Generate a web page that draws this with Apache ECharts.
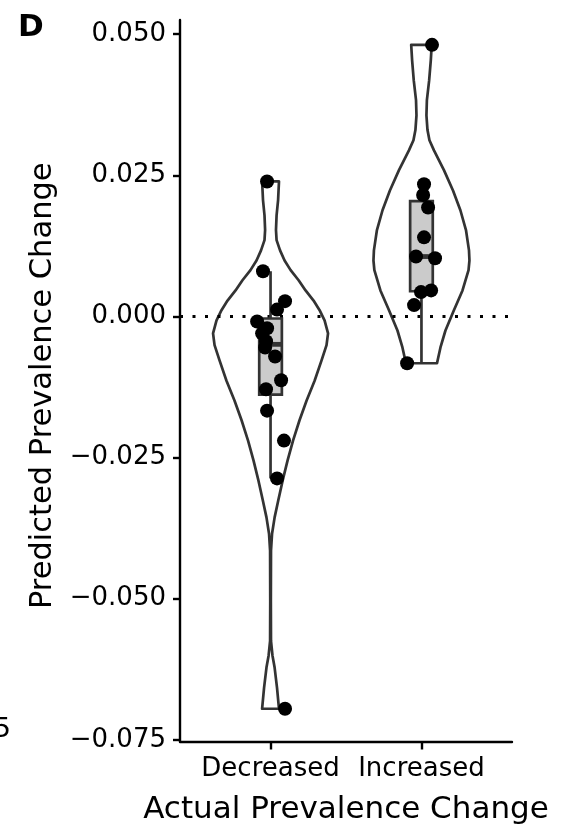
<!DOCTYPE html>
<html>
<head>
<meta charset="utf-8">
<script src="https://cdn.jsdelivr.net/npm/echarts@6/dist/echarts.min.js"></script>
<style>
  html, body { margin: 0; padding: 0; background: #ffffff; }
  #chart { width: 561px; height: 831px; }
</style>
</head>
<body>
<div id="chart"></div>
<script>
// Groups along the x axis
const categories = ['Decreased', 'Increased'];
const yTicks = [-0.075, -0.05, -0.025, 0, 0.025, 0.05];

// Predicted prevalence change per country, with the horizontal jitter of each dot
const decreasedValues = [0.0239, 0.0080, 0.0027, 0.0012, -0.0009, -0.0021, -0.0030, -0.0044,
  -0.0055, -0.0071, -0.0113, -0.0129, -0.0167, -0.0220, -0.0287, -0.0695];
const decreasedJitter = [-0.023, -0.050, 0.096, 0.043, -0.089, -0.023, -0.056, -0.030,
  -0.036, 0.030, 0.070, -0.030, -0.023, 0.089, 0.043, 0.096];
const increasedValues = [0.0481, 0.0234, 0.0215, 0.0193, 0.0140, 0.0106, 0.0103, 0.0046,
  0.0043, 0.0020, -0.0083];
const increasedJitter = [0.070, 0.017, 0.011, 0.044, 0.017, -0.036, 0.090, 0.064,
  -0.003, -0.049, -0.095];

// Violin outlines: density half-width (in group units) at each prediction level
const decreasedDensityLevels = [0.0239, 0.0223, 0.0206, 0.0179, 0.0153, 0.0135, 0.0117, 0.0099,
  0.0082, 0.0064, 0.0046, 0.0028, 0.0011, -0.0007, -0.0030, -0.0051, -0.0078, -0.0114,
  -0.0149, -0.0184, -0.0220, -0.0255, -0.0291, -0.0326, -0.0356, -0.0385, -0.0415,
  -0.0504, -0.0575, -0.0601, -0.0622, -0.0658, -0.0695];
const decreasedDensityWidth = [0.056, 0.053, 0.050, 0.040, 0.036, 0.040, 0.063, 0.093,
  0.133, 0.186, 0.232, 0.285, 0.325, 0.358, 0.381, 0.371, 0.338, 0.292,
  0.239, 0.192, 0.149, 0.113, 0.080, 0.051, 0.027, 0.010, 0.003,
  0.002, 0.003, 0.013, 0.027, 0.043, 0.056];
const increasedDensityLevels = [0.0481, 0.0454, 0.0418, 0.0383, 0.0356, 0.0330, 0.0312, 0.0294,
  0.0259, 0.0223, 0.0188, 0.0153, 0.0117, 0.0099, 0.0082, 0.0046, 0.0011, -0.0025,
  -0.0055, -0.0083];
const increasedDensityWidth = [0.068, 0.062, 0.051, 0.036, 0.033, 0.040, 0.053, 0.083,
  0.149, 0.209, 0.258, 0.295, 0.315, 0.318, 0.312, 0.272, 0.215, 0.159,
  0.126, 0.103];

const FONT = '"DejaVu Sans", "Liberation Sans", sans-serif';
const INK = '#333333';
const STROKE = 2.7;

const groups = [
  { pos: 1, values: decreasedValues, jitter: decreasedJitter,
    levels: decreasedDensityLevels, widths: decreasedDensityWidth },
  { pos: 2, values: increasedValues, jitter: increasedJitter,
    levels: increasedDensityLevels, widths: increasedDensityWidth }
];

// Tukey box statistics (type-7 quantiles, whiskers to the furthest point within 1.5 IQR)
function quantile(sorted, p) {
  const h = (sorted.length - 1) * p;
  const lo = Math.floor(h), hi = Math.ceil(h);
  return sorted[lo] + (h - lo) * (sorted[hi] - sorted[lo]);
}
function boxStats(values) {
  const s = values.slice().sort((a, b) => a - b);
  const q1 = quantile(s, 0.25), med = quantile(s, 0.5), q3 = quantile(s, 0.75);
  const iqr = q3 - q1;
  const inside = s.filter(v => v >= q1 - 1.5 * iqr && v <= q3 + 1.5 * iqr);
  return { q1, med, q3, lo: inside[0], hi: inside[inside.length - 1] };
}
groups.forEach(g => { g.box = boxStats(g.values); });

function renderViolin(params, api) {
  const g = groups[params.dataIndex];
  const pts = [];
  for (let i = 0; i < g.levels.length; i++) pts.push(api.coord([g.pos - g.widths[i], g.levels[i]]));
  for (let i = g.levels.length - 1; i >= 0; i--) pts.push(api.coord([g.pos + g.widths[i], g.levels[i]]));
  return {
    type: 'polygon',
    shape: { points: pts },
    style: { fill: 'none', stroke: INK, lineWidth: STROKE, lineJoin: 'round' }
  };
}

const BOX_HALF = 0.075;
function renderBox(params, api) {
  const g = groups[params.dataIndex];
  const b = g.box;
  const tl = api.coord([g.pos - BOX_HALF, b.q3]);
  const br = api.coord([g.pos + BOX_HALF, b.q1]);
  const c = (v) => api.coord([g.pos, v]);
  const ml = api.coord([g.pos - BOX_HALF, b.med]);
  const mr = api.coord([g.pos + BOX_HALF, b.med]);
  const lineStyle = { stroke: INK, lineWidth: STROKE };
  return {
    type: 'group',
    children: [
      { type: 'line', shape: { x1: c(b.q3)[0], y1: c(b.q3)[1], x2: c(b.hi)[0], y2: c(b.hi)[1] }, style: lineStyle },
      { type: 'line', shape: { x1: c(b.q1)[0], y1: c(b.q1)[1], x2: c(b.lo)[0], y2: c(b.lo)[1] }, style: lineStyle },
      { type: 'rect', shape: { x: tl[0], y: tl[1], width: br[0] - tl[0], height: br[1] - tl[1] },
        style: { fill: '#cbcbcb', stroke: INK, lineWidth: STROKE } },
      { type: 'line', shape: { x1: ml[0], y1: ml[1], x2: mr[0], y2: mr[1] },
        style: { stroke: INK, lineWidth: 4.8 } }
    ]
  };
}

const pointData = [];
groups.forEach(g => g.values.forEach((v, i) => pointData.push([g.pos + g.jitter[i], v])));

function fmtY(v) {
  const s = Math.abs(v).toFixed(3);
  return (v < -1e-9 ? '\u2212' : '') + s;
}

const chart = echarts.init(document.getElementById('chart'));
chart.setOption({
  animation: false,
  backgroundColor: '#ffffff',
  grid: { left: 180, right: 49, top: 20, bottom: 89.5 },
  xAxis: {
    type: 'value', min: 0.4, max: 2.6,
    name: 'Actual Prevalence Change', nameLocation: 'middle', nameGap: 53,
    nameTextStyle: { fontFamily: FONT, fontSize: 31, color: '#000' },
    axisLine: { show: true, onZero: false, lineStyle: { color: '#000', width: 2.4 } },
    axisTick: { show: true, customValues: [1, 2], length: 8, lineStyle: { color: '#000', width: 2.4 } },
    axisLabel: { customValues: [1, 2], margin: 15, fontFamily: FONT, fontSize: 26, color: '#000',
      formatter: v => categories[Math.round(v) - 1] || '' },
    splitLine: { show: false }
  },
  yAxis: {
    type: 'value', min: -0.0753, max: 0.0525,
    name: 'Predicted Prevalence Change', nameLocation: 'middle', nameGap: 121, nameRotate: 90,
    nameTextStyle: { fontFamily: FONT, fontSize: 30.5, color: '#000', padding: [0, 10, 0, 0] },
    axisLine: { show: true, onZero: false, lineStyle: { color: '#000', width: 2.4 } },
    axisTick: { show: true, customValues: yTicks, length: 7, lineStyle: { color: '#000', width: 2.4 } },
    axisLabel: { customValues: yTicks, margin: 14, fontFamily: FONT, fontSize: 26, color: '#000',
      formatter: fmtY },
    splitLine: { show: false }
  },
  graphic: [
    { type: 'text', left: 18, top: 12, style: { text: 'D', font: 'bold 31px ' + FONT, fill: '#000' } },
    { type: 'text', x: 11, y: 730, style: { text: '5', font: '27px ' + FONT, fill: '#000',
      align: 'right', verticalAlign: 'middle' } }
  ],
  series: [
    {
      type: 'custom', name: 'violin', z: 1,
      renderItem: renderViolin,
      data: groups.map(g => [g.pos, g.levels[0]]),
      encode: { x: 0, y: 1 },
      markLine: {
        silent: true, symbol: 'none', z: 2,
        label: { show: false },
        lineStyle: { color: '#000', type: [3, 9.5], width: 3 },
        data: [{ yAxis: 0 }]
      }
    },
    {
      type: 'custom', name: 'box', z: 3,
      renderItem: renderBox,
      data: groups.map(g => [g.pos, g.box.q3]),
      encode: { x: 0, y: 1 }
    },
    {
      type: 'scatter', name: 'points', z: 4,
      symbol: 'circle', symbolSize: 14,
      itemStyle: { color: '#000', opacity: 1 },
      data: pointData
    }
  ]
});
</script>
</body>
</html>
